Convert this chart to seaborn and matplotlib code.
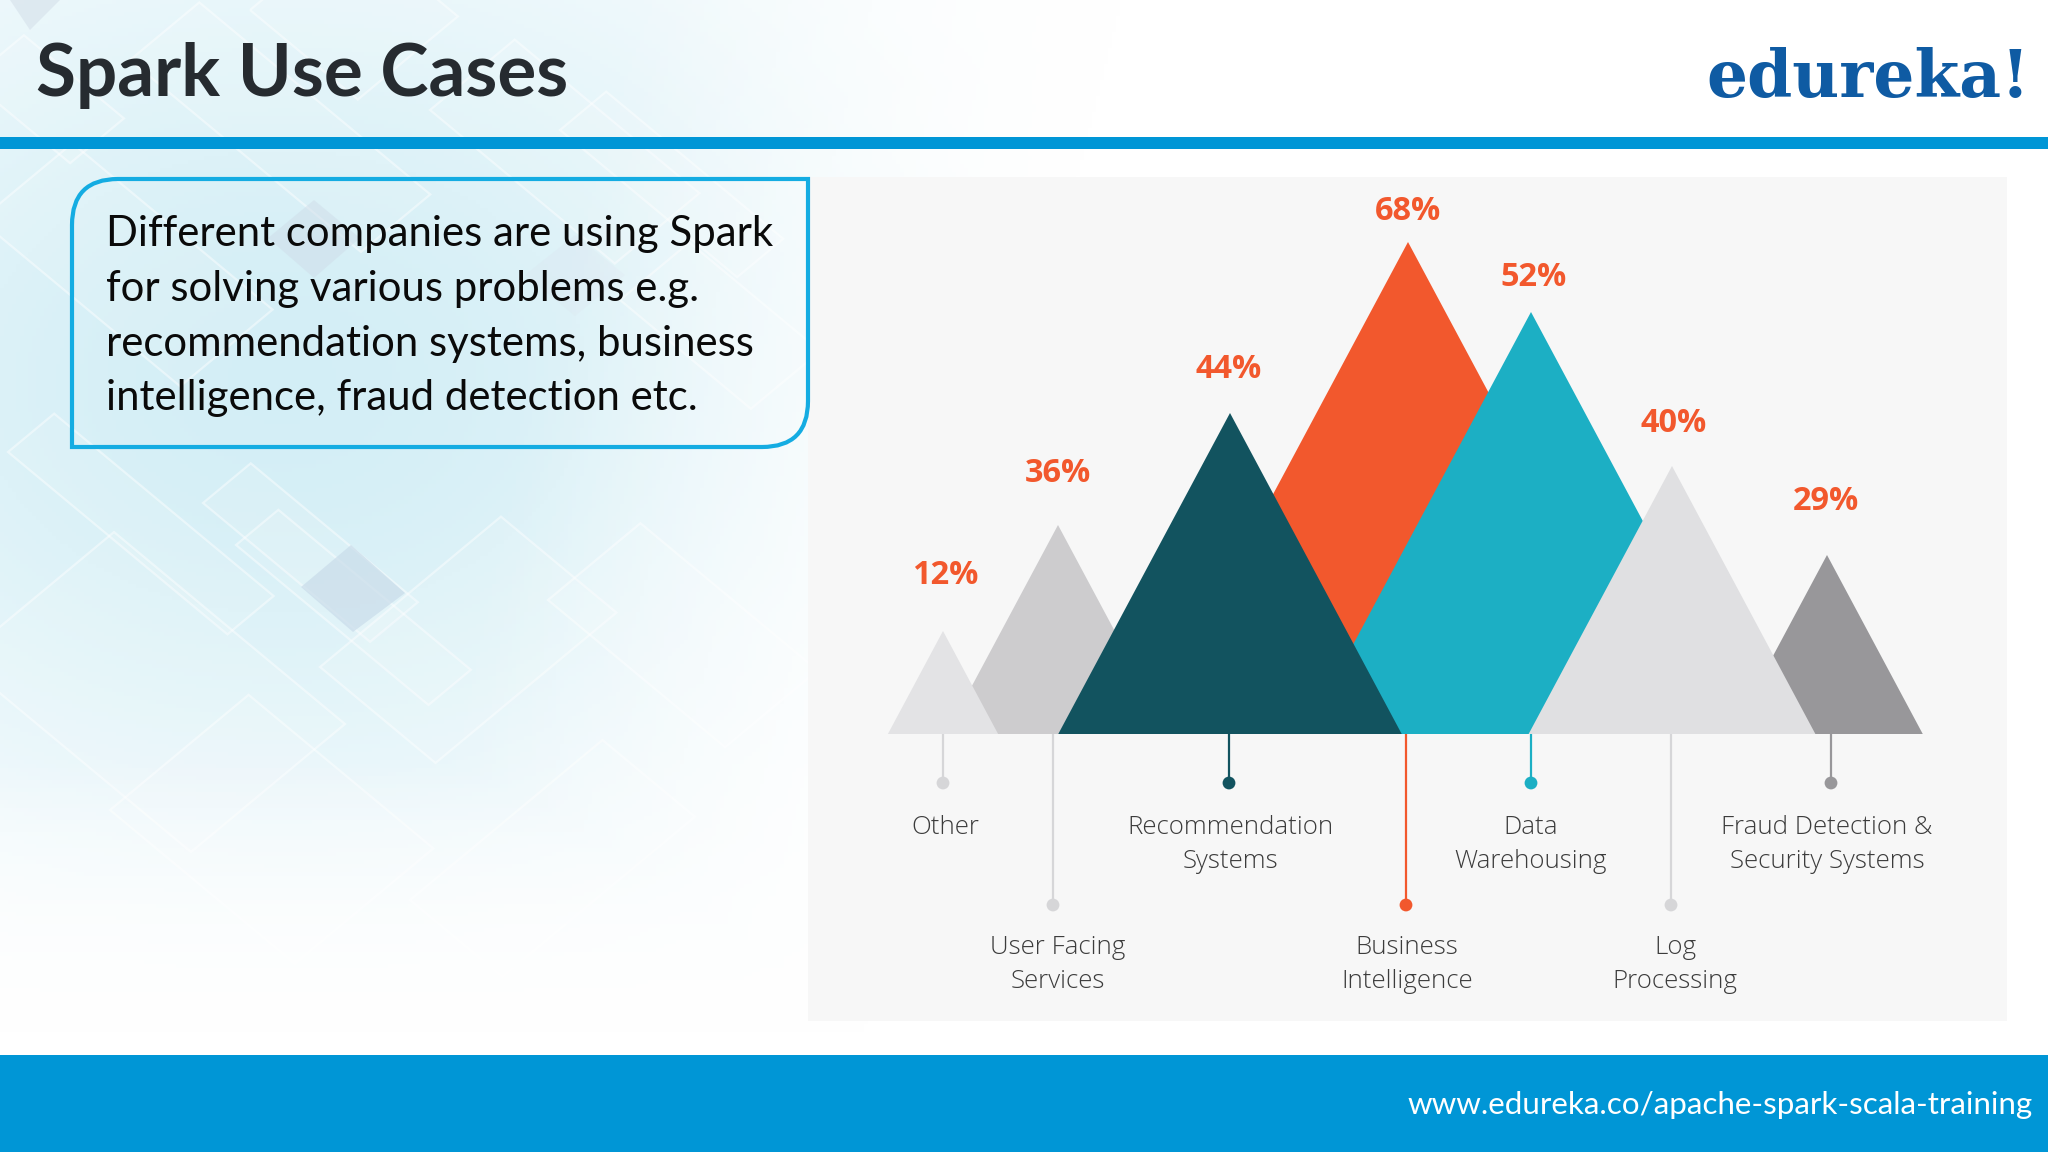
import numpy as np
import pandas as pd
import matplotlib
matplotlib.use("Agg")
import matplotlib.pyplot as plt
from matplotlib.path import Path
from matplotlib.patches import PathPatch, Rectangle, Polygon
import seaborn as sns

# ---- data ----
categories = ["Other", "User Facing\nServices", "Recommendation\nSystems", "Business\nIntelligence",
              "Data\nWarehousing", "Log\nProcessing", "Fraud Detection &\nSecurity Systems"]
percent = [12, 36, 44, 68, 52, 40, 29]
peak_height = [103, 209, 321, 492, 422, 268, 179]

title = "Spark Use Cases"
logo = "edureka!"
footer = "www.edureka.co/apache-spark-scala-training"
body_lines = ["Different companies are using Spark", "for solving various problems e.g.",
              "recommendation systems, business", "intelligence, fraud detection etc."]

# ---- layout and style ----
centers = [943, 1058, 1230, 1408, 1531, 1672, 1827]
stem_x = [943, 1053, 1229, 1406, 1531, 1671, 1831]
label_x = [945, 1058, 1230, 1407, 1531, 1675, 1827]
pct_x = [945, 1058, 1229, 1408, 1534, 1674, 1826]
pct_gap = [55, 51, 43, 31, 34, 43, 53]
is_long = [False, True, False, True, False, True, False]
fill_colors = ["#e3e3e5", "#cdccce", "#12535f", "#f2582d", "#1cafc4", "#e0e0e2", "#98979a"]
dot_colors = ["#d6d6d8", "#d6d6d8", "#12535f", "#f2582d", "#1cafc4", "#d6d6d8", "#98979a"]
draw_order = [3, 4, 1, 0, 2, 6, 5]
body_baselines = [246, 301, 356, 410]
half_width_per_height = 0.535
base_y, panel = 734, (808, 177, 2007, 1021)
BLUE = "#0096d6"

sns.set_theme(style="white")
plt.rcParams["font.family"] = ["Lato", "DejaVu Sans"]

fig = plt.figure(figsize=(20.48, 11.52), dpi=100, facecolor="white")

# ---- slide background (pixel canvas) ----
bg = fig.add_axes([0, 0, 1, 1])
bg.set_xlim(0, 2048)
bg.set_ylim(1152, 0)
bg.axis("off")

yy, xx = np.mgrid[0:1152:4, 0:2048:4]
w = np.exp(-((xx - 280) / 620.0) ** 2 - ((yy - 380) / 470.0) ** 2)
tint = np.array([0.83, 0.935, 0.965])
img = np.ones(xx.shape + (3,)) * (1 - w[..., None]) + tint * w[..., None]
bg.imshow(img, extent=(0, 2048, 1152, 0), aspect="auto", zorder=0)

u = np.array([0.77, 0.64])
v = np.array([0.77, -0.64])


def band(left, a, b):
    p = np.array(left, float)
    return [p, p + a * u, p + a * u + b * v, p + b * v]


bands = [((203, 503), 217, 62), ((8, 452), 285, 60), ((236, 545), 250, 55), ((320, 667), 150, 235),
         ((-20, 220), 260, 120), ((130, 60), 300, 90), ((430, 110), 240, 110), ((-40, 660), 300, 200),
         ((110, 810), 240, 180), ((548, 600), 230, 120), ((410, 900), 120, 250), ((250, 10), 140, 130),
         ((620, 300), 170, 90), ((-30, 80), 130, 70), ((560, 130), 230, 60)]
for left, a, b in bands:
    bg.add_patch(Polygon(band(left, a, b), closed=True, facecolor="white", alpha=0.10, edgecolor="none", zorder=1))
    bg.add_patch(Polygon(band(left, a, b), closed=True, fill=False, edgecolor="white", alpha=0.45, lw=1.6, zorder=1))
for pts, col, al in [([(351, 545), (405, 593), (353, 632), (301, 587)], "#c9dcea", 0.7),
                     ([(314, 200), (360, 238), (314, 278), (268, 238)], "#cfdde9", 0.5),
                     ([(575, 235), (625, 275), (575, 316), (525, 275)], "#dbe7f1", 0.4),
                     ([(10, 0), (60, 0), (30, 30)], "#d5e1ea", 0.6)]:
    bg.add_patch(Polygon(pts, closed=True, facecolor=col, alpha=al, edgecolor="none", zorder=1))

fade = np.clip((yy - 760) / 270.0, 0, 1) ** 0.8
fade = np.maximum(fade, np.clip((xx - 620 + 0.25 * yy) / 500.0, 0, 1))
over = np.ones(xx.shape + (4,))
over[..., 3] = fade
bg.imshow(over, extent=(0, 2048, 1152, 0), aspect="auto", zorder=2)
bg.set_xlim(0, 2048)
bg.set_ylim(1152, 0)

# bars of the slide
bg.add_patch(Rectangle((0, 137), 2048, 12, facecolor=BLUE, edgecolor="none", zorder=3))
bg.add_patch(Rectangle((0, 1055), 2048, 97, facecolor=BLUE, edgecolor="none", zorder=3))
bg.add_patch(Rectangle((panel[0], panel[1]), panel[2] - panel[0], panel[3] - panel[1],
                       facecolor="#f7f7f7", edgecolor="none", zorder=3))

# callout box: two rounded corners
x0, y0, x1, y1, r = 72, 179, 808, 447, 46
verts = [(x0, y1), (x0, y0 + r), (x0, y0), (x0 + r, y0), (x1, y0), (x1, y1 - r), (x1, y1), (x1 - r, y1), (x0, y1), (x0, y1)]
codes = [Path.MOVETO, Path.LINETO, Path.CURVE3, Path.CURVE3, Path.LINETO, Path.LINETO, Path.CURVE3, Path.CURVE3,
         Path.LINETO, Path.CLOSEPOLY]
bg.add_patch(PathPatch(Path(verts, codes), facecolor="none", edgecolor="#14ace2", lw=3.0, zorder=4))

bg.text(36, 96, title, fontsize=52.4, fontweight="bold", color="#262b30", ha="left", va="baseline", zorder=5)
for line, base in zip(body_lines, body_baselines):
    bg.text(106, base, line, fontsize=30.2, color="#0a0a0a", ha="left", va="baseline", zorder=5)
bg.text(2030, 97, logo, fontsize=46.5, fontweight="bold", family=["DejaVu Serif"], color="#0f5ba3",
        ha="right", va="baseline", zorder=5)
bg.text(2033, 1105, footer, fontsize=22.6, color="white", ha="right", va="center", zorder=5)

# ---- chart, with heights measured above the base line ----
ax = fig.add_axes([panel[0] / 2048, 1 - panel[3] / 1152, (panel[2] - panel[0]) / 2048, (panel[3] - panel[1]) / 1152])
ax.patch.set_alpha(0)

df = pd.DataFrame({"category": categories, "percent": percent, "peak": peak_height, "center": centers,
                   "stem": stem_x, "label_x": label_x, "pct_x": pct_x, "gap": pct_gap, "long": is_long})
df["stem_end"] = np.where(df["long"], base_y - 905, base_y - 783)

for i in draw_order:
    row = df.iloc[i]
    half = row["peak"] * half_width_per_height
    ax.fill([row["center"] - half, row["center"], row["center"] + half], [0, row["peak"], 0],
            color=fill_colors[i], lw=0, zorder=2 + draw_order.index(i))

for i, row in df.iterrows():
    ax.plot([row["stem"], row["stem"]], [0, row["stem_end"]], color=dot_colors[i], lw=1.6, zorder=1)
    ax.text(row["pct_x"], row["peak"] + row["gap"], f"{row['percent']}%", fontsize=23.4, fontweight="bold",
            family=["Open Sans"], color="#f2582d", ha="center", va="center", zorder=12)
    first_y, step = (948, 33) if row["long"] else (827, 35)
    for k, part in enumerate(row["category"].split("\n")):
        ax.text(row["label_x"], base_y - (first_y + k * step), part, fontsize=18.6, family=["Open Sans"],
                fontweight="light", color="#3c3c3c", ha="center", va="center", zorder=12)

sns.scatterplot(data=df, x="stem", y="stem_end", hue="category", palette=dict(zip(categories, dot_colors)),
                s=85, linewidth=0, legend=False, ax=ax, zorder=11)
ax.set_xlim(panel[0], panel[2])
ax.set_ylim(base_y - panel[3], base_y - panel[1])
ax.axis("off")

fig.savefig("out.png", dpi=100)
